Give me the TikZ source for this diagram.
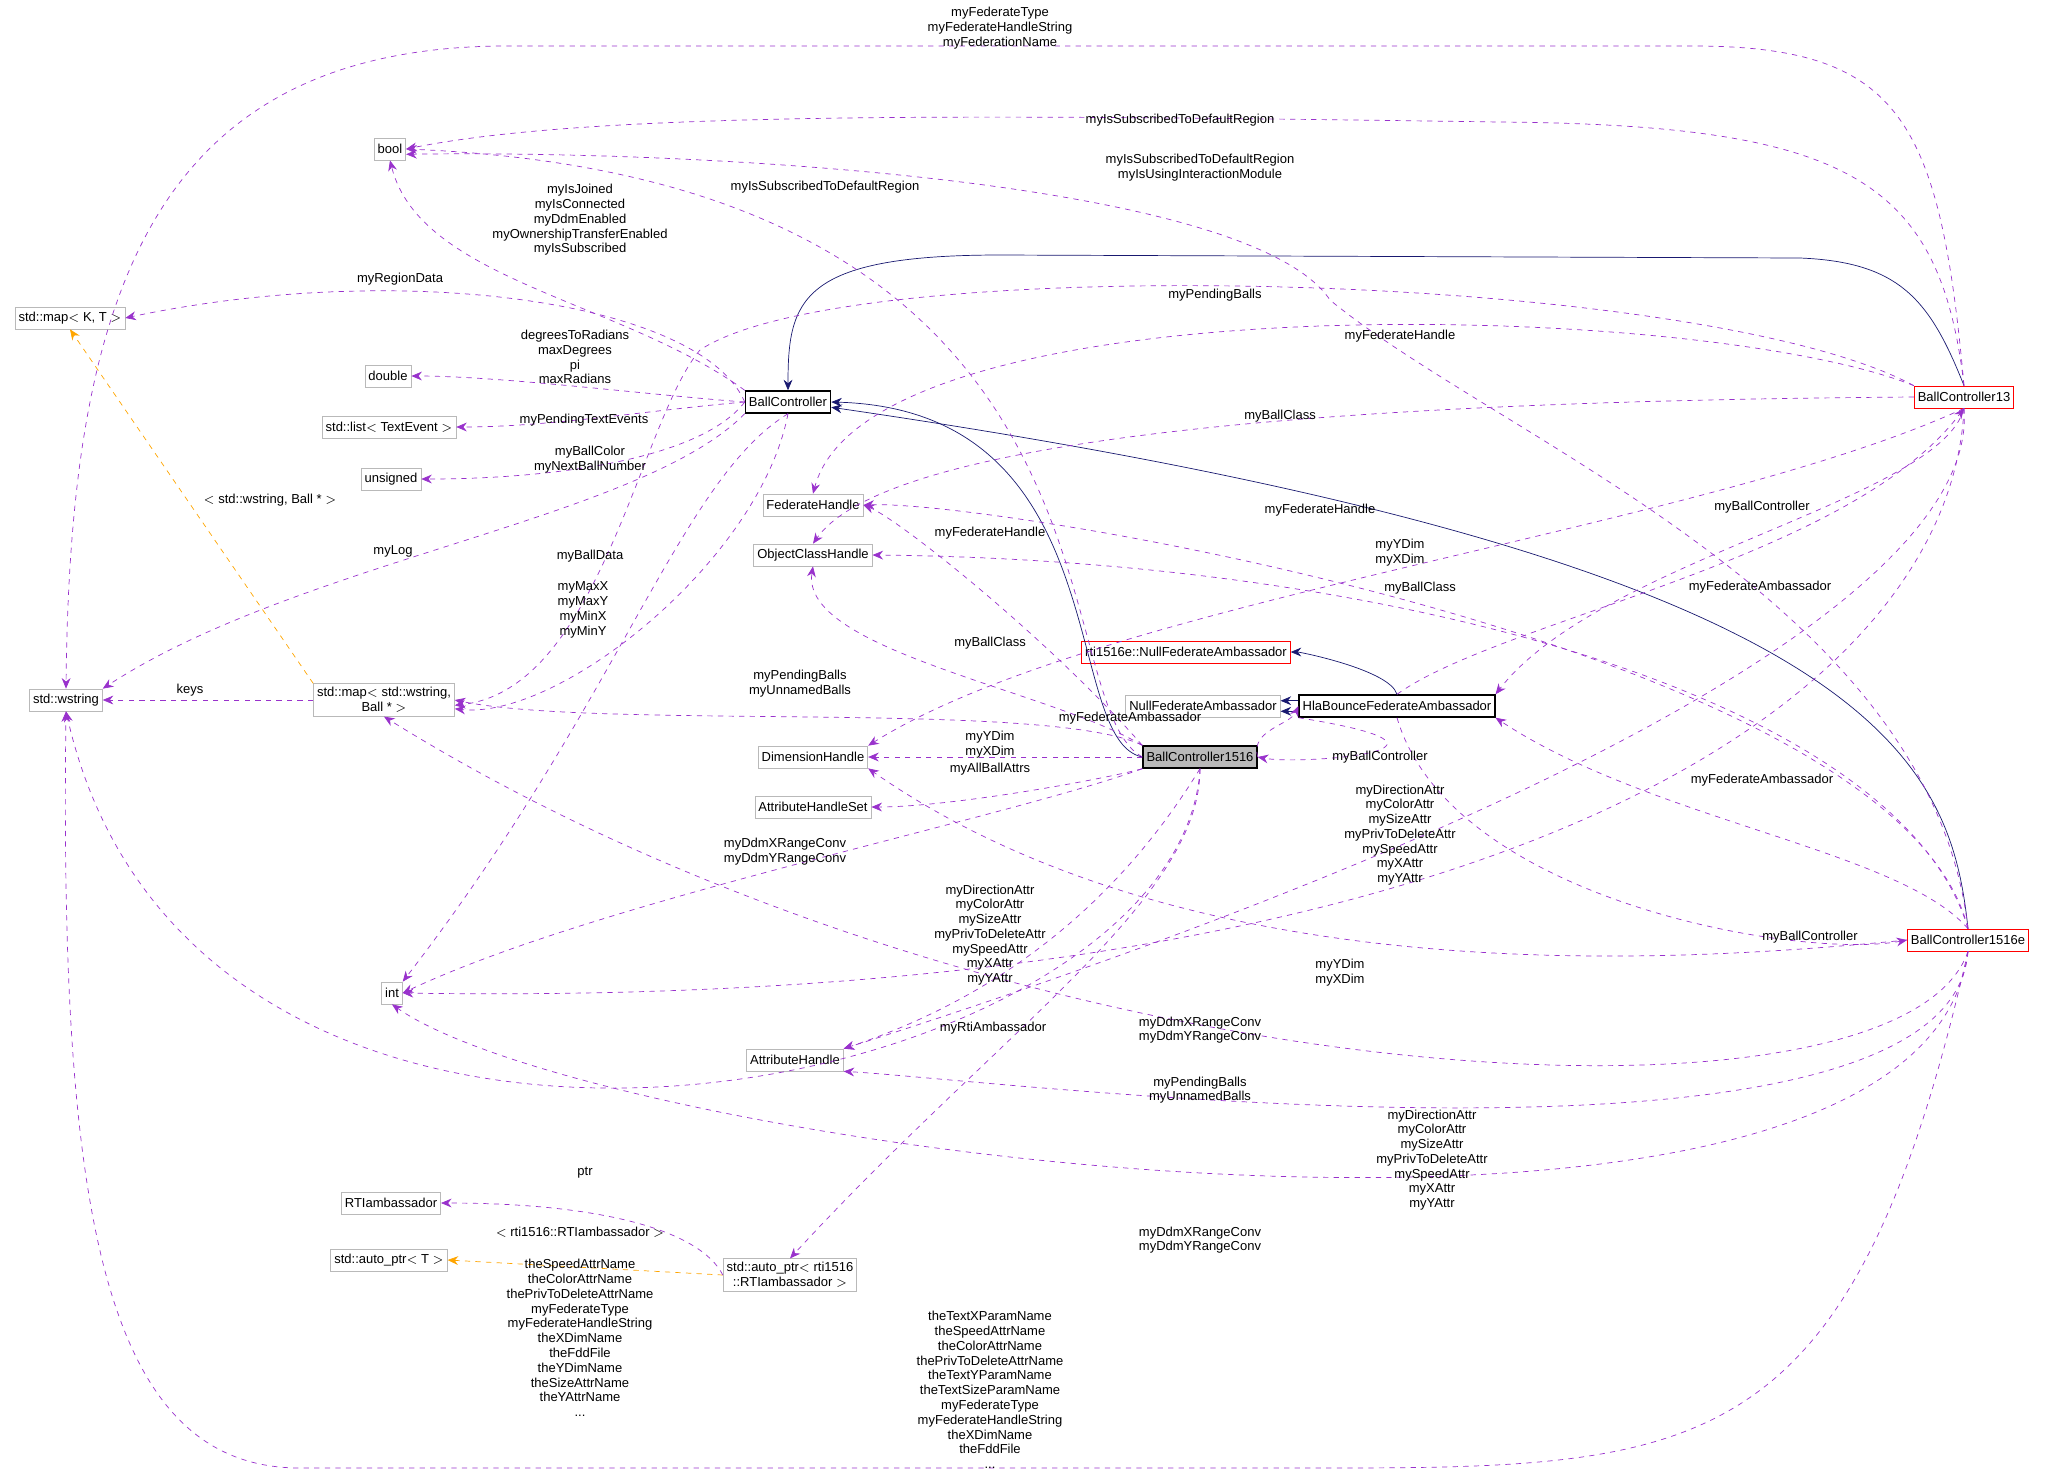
\documentclass[tikz,border=0pt]{standalone}
\usepackage{fontspec}
\setmainfont{Liberation Sans}
\usetikzlibrary{arrows.meta}
\definecolor{memcol}{RGB}{153,50,204}
\definecolor{inhcol}{RGB}{25,25,112}
\definecolor{tplcol}{RGB}{255,165,0}
\tikzset{
  cls/.style={draw=gray!55, fill=white, inner sep=2pt, minimum height=0.44cm, font=\fontsize{7.4}{8.6}\selectfont, align=center},
  red/.style={cls, draw=red},
  blk/.style={cls, draw=black, thick},
  lbl/.style={font=\fontsize{7.4}{8.4}\selectfont, align=center, inner sep=0pt},
  mem/.style={memcol, dashed, thin, -{Stealth[length=6pt,width=5pt]}},
  inh/.style={inhcol, thin, -{Stealth[length=6pt,width=5pt]}},
  tpl/.style={tplcol, dashed, thin, -{Stealth[length=6pt,width=5pt]}}
}
\begin{document}
\begin{tikzpicture}[x=0.02cm,y=-0.02cm]
    \useasboundingbox (0,0) rectangle (2056,1475);
    % classes
    \node[cls] (bool) at (390,149) {bool};
    \node[cls] (mapkt) at (70,318) {std::map$<$ K, T $>$};
    \node[cls] (dbl) at (388,376) {double};
    \node[cls] (lst) at (389,427) {std::list$<$ TextEvent $>$};
    \node[cls] (uns) at (391,479) {unsigned};
    \node[cls] (wstr) at (66,700) {std::wstring};
    \node[cls] (mapwb) at (384,700) {std::map$<$ std::wstring,\\Ball * $>$};
    \node[cls] (int) at (392,993) {int};
    \node[cls] (fedh) at (813,505) {FederateHandle};
    \node[cls] (objh) at (813,555) {ObjectClassHandle};
    \node[cls] (dimh) at (813,757) {DimensionHandle};
    \node[cls] (ahset) at (813,807) {AttributeHandleSet};
    \node[cls] (atth) at (795,1060) {AttributeHandle};
    \node[cls] (rtia) at (391,1203) {RTIambassador};
    \node[cls] (autot) at (389,1260) {std::auto\_ptr$<$ T $>$};
    \node[cls] (autor) at (790,1275) {std::auto\_ptr$<$ rti1516\\::RTIambassador $>$};
    \node[blk] (bc) at (788,402) {BallController};
    \node[red] (rtinull) at (1186,652) {rti1516e::NullFederateAmbassador};
    \node[cls] (nullfed) at (1203,706) {NullFederateAmbassador};
    \node[blk] (hla) at (1397,706) {HlaBounceFederateAmbassador};
    \node[blk, fill=gray!55] (bc16) at (1200,757) {BallController1516};
    \node[red] (bc13) at (1964,397) {BallController13};
    \node[red] (bc16e) at (1968,940) {BallController1516e};
    % inheritance
    \draw[inh] (bc13.north) .. controls (1930,300) and (1900,262) .. (1800,258) -- (1000,255) .. controls (800,255) and (788,300) .. (bc.north);
    \draw[inh] (bc16.west) .. controls (1060,740) and (1120,410) .. (bc.east);
    \draw[inh] (bc16e.north) .. controls (1950,760) and (1880,560) .. ([yshift=-3pt]bc.east);
    \draw[inh] (hla.north) .. controls (1390,670) and (1300,652) .. (rtinull.east);
    \draw[inh] ([yshift=3pt]hla.west) -- ([yshift=3pt]nullfed.east);
    \draw[inh] ([yshift=-3pt]hla.west) -- ([yshift=-3pt]nullfed.east);
    % templates
    \draw[tpl] (mapwb.north west) -- (mapkt.south);
    \draw[tpl] (autor.west) -- (autot.east);
    % BallController members
    \draw[mem] (bc.north west) .. controls (620,300) and (420,280) .. (bool.south);
    \draw[mem] (bc.west) .. controls (700,300) and (400,260) .. (mapkt.east);
    \draw[mem] (bc.west) .. controls (650,395) and (500,376) .. (dbl.east);
    \draw[mem] (bc.west) .. controls (650,410) and (550,427) .. (lst.east);
    \draw[mem] (bc.west) .. controls (700,460) and (550,479) .. (uns.east);
    \draw[mem] (bc.south west) .. controls (640,520) and (300,560) .. (wstr.north east);
    \draw[mem] (bc.south) .. controls (760,560) and (560,720) .. ([yshift=-5pt]mapwb.east);
    \draw[mem] (bc.south) .. controls (680,480) and (620,700) .. (int.north east);
    % BallController13 members
    \draw[mem] (bc13.north) .. controls (1940,120) and (1900,48) .. (1700,46) -- (500,46) .. controls (150,50) and (70,300) .. (wstr.north);
    \draw[mem] (bc13.north) .. controls (1940,180) and (1850,125) .. (1500,122) .. controls (1000,115) and (600,110) .. (bool.east);
    \draw[mem] (bc13.north west) .. controls (1700,300) and (870,280) .. (fedh.north);
    \draw[mem] (bc13.north west) .. controls (1700,270) and (850,250) .. (700,350) .. controls (640,420) and (600,690) .. ([yshift=-3pt]mapwb.east);
    \draw[mem] (bc13.west) .. controls (1500,400) and (900,420) .. (objh.north);
    \draw[mem] (hla.north) .. controls (1500,620) and (1850,560) .. (bc13.south);
    \draw[mem] (bc13.south) .. controls (1940,500) and (1600,560) .. (hla.north east);
    \draw[mem] (bc13.south) .. controls (1700,530) and (1100,600) .. (dimh.north east);
    \draw[mem] (bc13.south) .. controls (1980,600) and (1500,840) .. (atth.north east);
    \draw[mem] (bc13.south) .. controls (1950,700) and (1500,1010) .. (int.east);
    % BallController1516 members
    \draw[mem] (bc16.west) .. controls (1040,700) and (1150,180) .. (bool.east);
    \draw[mem] (bc16.north west) .. controls (1050,640) and (900,520) .. (fedh.east);
    \draw[mem] (bc16.north west) .. controls (1050,690) and (800,650) .. (objh.south);
    \draw[mem] (bc16.north west) .. controls (1050,700) and (600,730) .. (mapwb.east);
    \draw[mem] (bc16.west) -- (dimh.east);
    \draw[mem] (bc16.south west) .. controls (1100,780) and (950,807) .. (ahset.east);
    \draw[mem] (bc16.east) .. controls (1250,730) and (1290,725) .. (hla.west);
    \draw[mem] (hla.south west) .. controls (1500,750) and (1300,765) .. (bc16.east);
    \draw[mem] (bc16.south west) .. controls (1000,820) and (600,900) .. (int.east);
    \draw[mem] (bc16.south) .. controls (1150,850) and (1050,980) .. (atth.north east);
    \draw[mem] (bc16.south) .. controls (1200,900) and (1000,1030) .. (autor.north);
    \draw[mem] (bc16.south) .. controls (1180,1100) and (200,1300) .. (wstr.south);
    % BallController1516e members
    \draw[mem] (bc16e.north) .. controls (1930,600) and (1500,440) .. (1330,300) .. controls (1250,180) and (700,150) .. ([yshift=-3pt]bool.east);
    \draw[mem] (bc16e.north) .. controls (1900,650) and (1000,500) .. (fedh.east);
    \draw[mem] (bc16e.north) .. controls (1900,700) and (1400,560) .. (objh.east);
    \draw[mem] (bc16e.north) .. controls (1900,850) and (1650,820) .. (hla.south east);
    \draw[mem] (hla.south) .. controls (1450,900) and (1800,960) .. (bc16e.west);
    \draw[mem] (bc16e.west) .. controls (1700,960) and (1200,1000) .. (dimh.south east);
    \draw[mem] (bc16e.south) .. controls (1900,1150) and (1000,1100) .. (mapwb.south);
    \draw[mem] (bc16e.south) .. controls (1950,1200) and (1000,1080) .. (atth.south east);
    \draw[mem] (bc16e.south) .. controls (1920,1330) and (600,1150) .. (int.south);
    \draw[mem] (bc16e.south) .. controls (1850,1470) and (1700,1468) .. (1300,1468) -- (300,1468) .. controls (100,1468) and (60,1200) .. (wstr.south);
    % other members
    \draw[mem] (mapwb.west) -- (wstr.east);
    \draw[mem] (autor.west) .. controls (700,1230) and (600,1203) .. (rtia.east);
    % labels
    \node[lbl] (l1) at (1000,28) {myFederateType\\myFederateHandleString\\myFederationName};
    \node[lbl] (l2) at (1180,120) {myIsSubscribedToDefaultRegion};
    \node[lbl] (l3) at (1200,168) {myIsSubscribedToDefaultRegion\\myIsUsingInteractionModule};
    \node[lbl] (l4) at (825,187) {myIsSubscribedToDefaultRegion};
    \node[lbl] (l5) at (580,220) {myIsJoined\\myIsConnected\\myDdmEnabled\\myOwnershipTransferEnabled\\myIsSubscribed};
    \node[lbl] (l6) at (400,279) {myRegionData};
    \node[lbl] (l7) at (1215,295) {myPendingBalls};
    \node[lbl] (l8) at (1400,336) {myFederateHandle};
    \node[lbl] (l9) at (575,357) {degreesToRadians\\maxDegrees\\pi\\maxRadians};
    \node[lbl] (l10) at (1280,416) {myBallClass};
    \node[lbl] (l11) at (584,420) {myPendingTextEvents};
    \node[lbl] (l12) at (590,460) {myBallColor\\myNextBallNumber};
    \node[lbl] (l13) at (1320,510) {myFederateHandle};
    \node[lbl] (l14) at (1762,507) {myBallController};
    \node[lbl] (l15) at (1400,553) {myYDim\\myXDim};
    \node[lbl] (l16) at (393,551) {myLog};
    \node[lbl] (l17) at (590,556) {myBallData};
    \node[lbl] (l18) at (990,533) {myFederateHandle};
    \node[lbl] (l19) at (1420,588) {myBallClass};
    \node[lbl] (l20) at (1760,587) {myFederateAmbassador};
    \node[lbl] (l21) at (583,610) {myMaxX\\myMaxY\\myMinX\\myMinY};
    \node[lbl] (l22) at (990,643) {myBallClass};
    \node[lbl] (l23) at (270,500) {$<$ std::wstring, Ball * $>$};
    \node[lbl] (l24) at (190,690) {keys};
    \node[lbl] (l25) at (800,684) {myPendingBalls\\myUnnamedBalls};
    \node[lbl] (l26) at (1130,718) {myFederateAmbassador};
    \node[lbl] (l27) at (990,745) {myYDim\\myXDim};
    \node[lbl] (l28) at (1380,757) {myBallController};
    \node[lbl] (l29) at (990,769) {myAllBallAttrs};
    \node[lbl] (l30) at (1762,780) {myFederateAmbassador};
    \node[lbl] (l31) at (1400,835) {myDirectionAttr\\myColorAttr\\mySizeAttr\\myPrivToDeleteAttr\\mySpeedAttr\\myXAttr\\myYAttr};
    \node[lbl] (l32) at (785,852) {myDdmXRangeConv\\myDdmYRangeConv};
    \node[lbl] (l33) at (990,935) {myDirectionAttr\\myColorAttr\\mySizeAttr\\myPrivToDeleteAttr\\mySpeedAttr\\myXAttr\\myYAttr};
    \node[lbl] (l34) at (1810,937) {myBallController};
    \node[lbl] (l35) at (1340,973) {myYDim\\myXDim};
    \node[lbl] (l36) at (1200,1030) {myDdmXRangeConv\\myDdmYRangeConv};
    \node[lbl] (l37) at (993,1028) {myRtiAmbassador};
    \node[lbl] (l38) at (1200,1090) {myPendingBalls\\myUnnamedBalls};
    \node[lbl] (l39) at (1432,1160) {myDirectionAttr\\myColorAttr\\mySizeAttr\\myPrivToDeleteAttr\\mySpeedAttr\\myXAttr\\myYAttr};
    \node[lbl] (l40) at (585,1173) {ptr};
    \node[lbl] (l41) at (580,1232) {$<$ rti1516::RTIambassador $>$};
    \node[lbl] (l42) at (1200,1240) {myDdmXRangeConv\\myDdmYRangeConv};
    \node[lbl] (l43) at (580,1338) {theSpeedAttrName\\theColorAttrName\\thePrivToDeleteAttrName\\myFederateType\\myFederateHandleString\\theXDimName\\theFddFile\\theYDimName\\theSizeAttrName\\theYAttrName\\...};
    \node[lbl] (l44) at (990,1390) {theTextXParamName\\theSpeedAttrName\\theColorAttrName\\thePrivToDeleteAttrName\\theTextYParamName\\theTextSizeParamName\\myFederateType\\myFederateHandleString\\theXDimName\\theFddFile\\...};
\end{tikzpicture}
\end{document}
